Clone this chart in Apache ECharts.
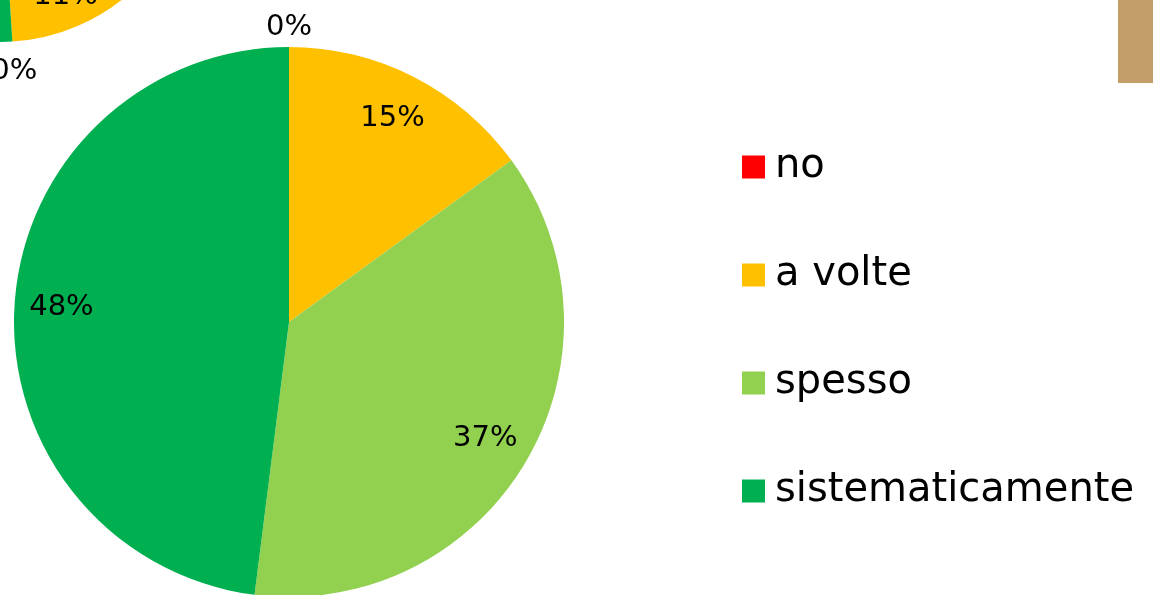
<!DOCTYPE html>
<html>
<head>
<meta charset="utf-8">
<script src="https://cdn.jsdelivr.net/npm/echarts@6/dist/echarts.min.js"></script>
<style>
  html, body { margin: 0; padding: 0; background: #fff; }
  #chart { width: 1153px; height: 595px; }
</style>
</head>
<body>
<div id="chart"></div>
<script>
// categorie e valori (%)
var categories = ['no', 'a volte', 'spesso', 'sistematicamente'];
var values = [0, 15, 37, 48];
// grafico precedente, tagliato in alto a sinistra
var prevValues = [38, 11, 0, 51];
var colors = ['#FF0000', '#FFC000', '#92D050', '#00B050'];

var labelFont = { fontFamily: 'DejaVu Sans', fontSize: 29, color: '#000' };

function pctLabel(p) {
  return Math.round(p.percent) + '%';
}

function pieSeries(vals, center, radius) {
  return {
    type: 'pie',
    center: center,
    radius: radius,
    startAngle: 90,
    clockwise: true,
    silent: true,
    label: { show: false },
    labelLine: { show: false },
    emphasis: { disabled: true },
    data: categories.map(function (c, i) { return { name: c, value: vals[i] }; })
  };
}

// serie trasparente solo per le etichette (inside = meta' dell'anello)
function labelRing(vals, center, radius, zeroOnly) {
  return {
    type: 'pie',
    center: center,
    radius: radius,
    startAngle: 90,
    clockwise: true,
    silent: true,
    avoidLabelOverlap: false,
    itemStyle: { color: 'rgba(0,0,0,0)' },
    label: Object.assign({ show: true, position: 'inside', formatter: pctLabel }, labelFont),
    labelLine: { show: false },
    emphasis: { disabled: true },
    data: categories.map(function (c, i) {
      return {
        name: c,
        value: vals[i],
        label: { show: zeroOnly ? vals[i] === 0 : vals[i] > 0 }
      };
    })
  };
}

var chart = echarts.init(document.getElementById('chart'));
chart.setOption({
  animation: false,
  color: colors,
  legend: {
    orient: 'vertical',
    left: 742,
    top: 147,
    padding: 0,
    icon: 'rect',
    itemWidth: 23,
    itemHeight: 23,
    itemGap: 68,
    selectedMode: false,
    textStyle: { fontFamily: 'DejaVu Sans', fontSize: 40, color: '#000', lineHeight: 40, padding: [0, 0, 0, 5] },
    data: categories
  },
  graphic: [{
    type: 'rect',
    left: 1118,
    top: 0,
    shape: { width: 35, height: 83 },
    style: { fill: '#C29F68' }
  }],
  series: [
    pieSeries(values, [289, 322], [0, 275]),
    pieSeries(prevValues, [0, -155], [0, 197]),
    labelRing(values, [289, 322], [175, 275], false),
    labelRing(values, [289, 322], [285, 299], true),
    labelRing(prevValues, [0, -155], [122, 202], false),
    labelRing(prevValues, [0, -155], [217, 231], true)
  ]
});
</script>
</body>
</html>
